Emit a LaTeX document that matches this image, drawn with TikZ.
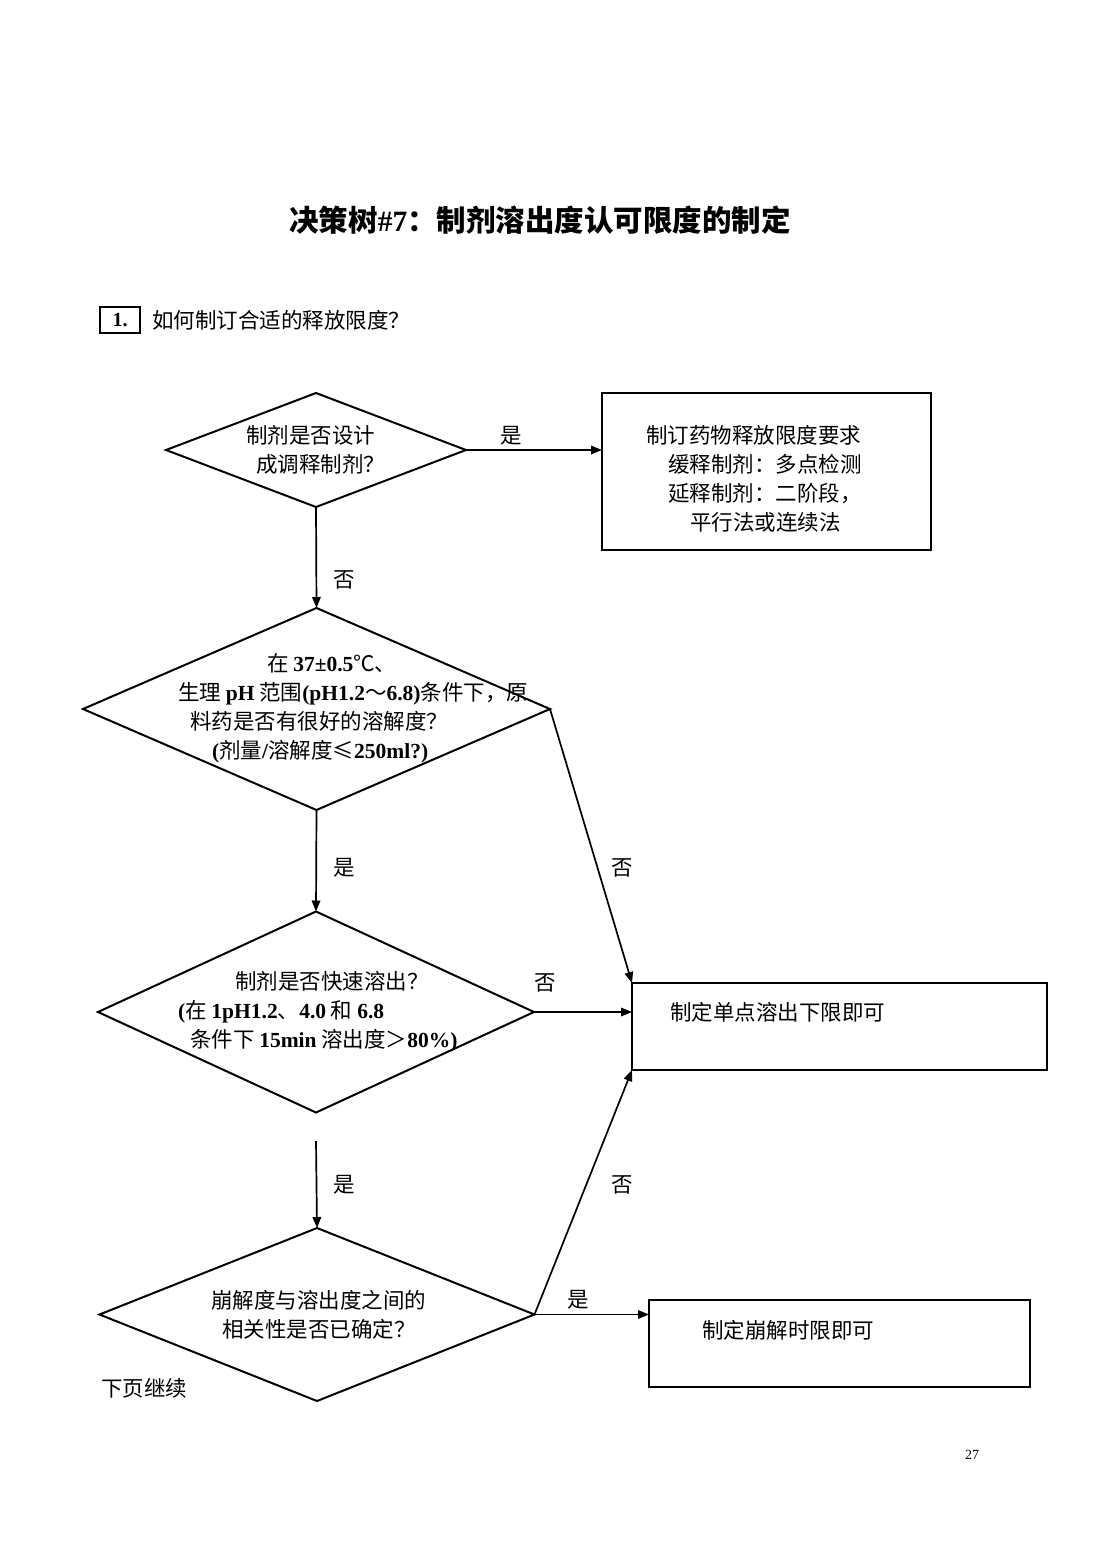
\documentclass[tikz,border=0pt]{standalone}
\usepackage{fontspec}
\setmainfont{Liberation Serif}
\newfontfamily\cjk{Noto Sans CJK SC}
\usetikzlibrary{shapes.geometric,arrows.meta}
\newcommand{\en}[1]{{\rmfamily\bfseries #1}}

\begin{document}
\begin{tikzpicture}[x=1pt, y=-1pt,
    every node/.style={font=\cjk\fontsize{21.5}{29}\selectfont, inner sep=0pt, outer sep=0pt},
    decision/.style={draw, diamond, line width=2pt},
    result/.style={draw, rectangle, line width=2pt},
    seta/.style={-{Triangle[length=11pt,width=8.5pt]}, line width=1.7pt}]

    % Página
    \fill[white] (0,0) rectangle (1100,1556);
    \useasboundingbox (0,0) rectangle (1100,1556);

    % 标题
    \node (titulo) at (540,220) {\fontsize{29.5}{34}\selectfont\bfseries 决策树\en{\#7}：制剂溶出度认可限度的制定};
    \node[draw, line width=1.2pt, minimum width=40pt, minimum height=26pt] (num) at (120,320) {\fontsize{20}{24}\selectfont\en{1.}};
    \node[anchor=west] (pergunta) at (152,320) {如何制订合适的释放限度？};

    % 判断 1
    \node[decision, minimum width=300pt, minimum height=114pt] (d1) at (316,450) {};
    \node[anchor=west, align=left] (t1) at (246,450) {制剂是否设计\\\hspace*{10pt}成调释制剂？};

    % 结果框 1
    \node[result, minimum width=329pt, minimum height=157pt] (b1) at (766.5,471.5) {};
    \node[anchor=west, align=left] (tb1) at (646,479) {制订药物释放限度要求\\\hspace*{22pt}缓释制剂：多点检测\\\hspace*{22pt}延释制剂：二阶段，\\\hspace*{44pt}平行法或连续法};

    % 判断 2
    \node[decision, minimum width=467pt, minimum height=202pt] (d2) at (316.5,709) {};
    \node[anchor=west, align=left] (t2) at (178,708) {\hspace*{89pt}在 \en{37±0.5}℃、\\生理 \en{pH} 范围\en{(pH1.2}～\en{6.8)}条件下，原\\\hspace*{12pt}料药是否有很好的溶解度？\\\hspace*{34pt}\en{(}剂量\en{/}溶解度≤\en{250ml?)}};

    % 判断 3
    \node[decision, minimum width=436pt, minimum height=201pt] (d3) at (316,1012) {};
    \node[anchor=west, align=left] (t3) at (178,1012) {\hspace*{57pt}制剂是否快速溶出？\\\en{(}在 \en{1pH1.2}、\en{4.0} 和 \en{6.8}\\\hspace*{12pt}条件下 \en{15min} 溶出度＞\en{80\%)}};

    % 结果框 2
    \node[result, minimum width=415pt, minimum height=87pt] (b2) at (839.5,1026.5) {};
    \node[anchor=west] (tb2) at (670,1012) {制定单点溶出下限即可};

    % 判断 4
    \node[decision, minimum width=435pt, minimum height=173pt] (d4) at (317,1314.5) {};
    \node[anchor=west, align=left] (t4) at (211,1315) {崩解度与溶出度之间的\\\hspace*{11pt}相关性是否已确定？};

    % 结果框 3
    \node[result, minimum width=381pt, minimum height=87pt] (b3) at (839.5,1343.5) {};
    \node[anchor=west] (tb3) at (702,1330) {制定崩解时限即可};

    % 标注
    \node (s1) at (511,436) {是};
    \node (n1) at (344,580) {否};
    \node (n2) at (622,868) {否};
    \node (s2) at (344,868) {是};
    \node (n3) at (545,983) {否};
    \node (s3) at (344,1185) {是};
    \node (n4) at (622,1185) {否};
    \node (s4) at (578,1300) {是};

    \node (cont) at (144,1388) {下页继续};
    \node (pagina) at (972,1455) {\rmfamily\fontsize{14}{16}\selectfont 27};

    % 连线
    \draw[seta] (d1.east) -- (d1.east -| b1.west);
    \draw[seta] (d1.south) -- (d2.north);
    \draw[seta] (d2.east) -- (b2.north west);
    \draw[seta] (d2.south) -- (d3.north);
    \draw[seta] (d3.east) -- (d3.east -| b2.west);
    \coordinate (c4) at (316,1141);
    \draw[seta] (c4) -- (d4.north);
    \draw[seta] (d4.east) -- (b2.south west);
    \draw[seta] (d4.east) -- (d4.east -| b3.west);

\end{tikzpicture}
\end{document}
